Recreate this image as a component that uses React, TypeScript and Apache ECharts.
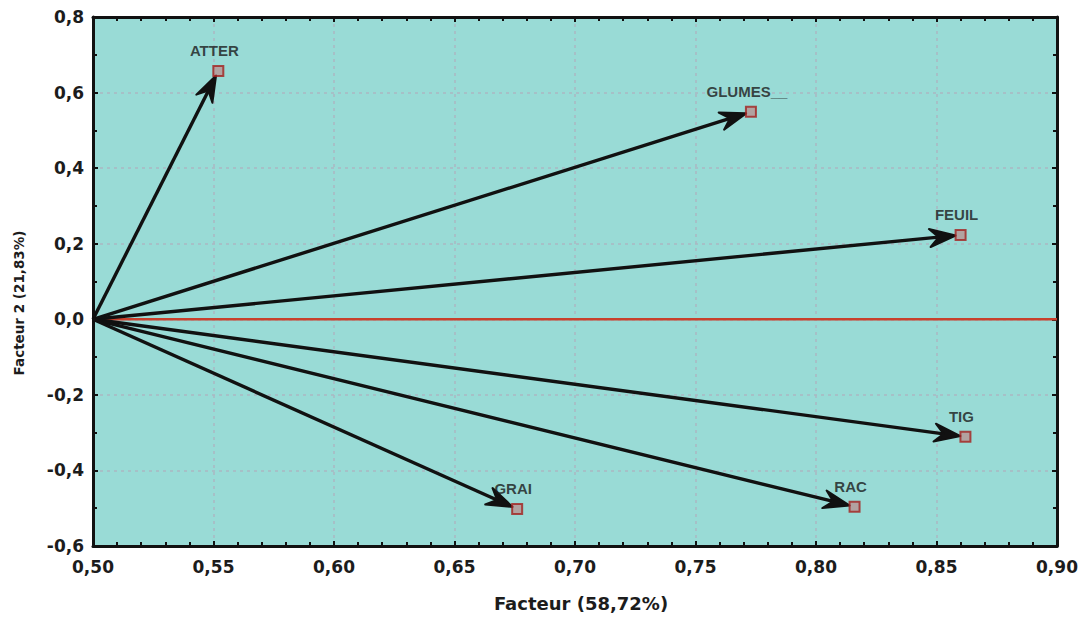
import React, { useEffect, useRef } from 'react';
import * as echarts from 'echarts';

// ---- data ----
const variables = ['ATTER', 'GLUMES__', 'FEUIL', 'TIG', 'RAC', 'GRAI'];
const factor1 = [0.552, 0.773, 0.86, 0.862, 0.816, 0.676];
const factor2 = [0.657, 0.549, 0.223, -0.311, -0.496, -0.502];
const origin = [0.5, 0];
const zeroLine = [[0.5, 0], [0.9, 0]];

const xMin = 0.5, xMax = 0.9, xStep = 0.05;
const yMin = -0.6, yMax = 0.8, yStep = 0.2;
const xTickLabels = ['0,50', '0,55', '0,60', '0,65', '0,70', '0,75', '0,80', '0,85', '0,90'];
const yTickLabels = ['-0,6', '-0,4', '-0,2', '0,0', '0,2', '0,4', '0,6', '0,8'];
const xTitle = 'Facteur (58,72%)';
const yTitle = 'Facteur 2 (21,83%)';

const BG = '#99dbd6';
const TXT = '#1c1c1c';
const FONT = "'DejaVu Sans', sans-serif";

export default function App() {
  const ref = useRef<HTMLDivElement>(null);

  useEffect(() => {
    if (!ref.current) return;
    const chart = echarts.init(ref.current, undefined, { renderer: 'svg' });

    const pts = variables.map((n, i) => ({ name: n, value: [factor1[i], factor2[i]] }));

    const tickStyle = { show: true, inside: true, length: 5, lineStyle: { color: '#111', width: 2 } };
    const axisLineStyle = { show: true, onZero: false, lineStyle: { color: '#111', width: 3 } };

    chart.setOption({
      animation: false,
      backgroundColor: '#ffffff',
      grid: {
        left: 93, right: 29, top: 17, bottom: 71,
        show: true, backgroundColor: BG, borderColor: '#111', borderWidth: 0,
      },
      xAxis: [
        {
          type: 'value', min: xMin, max: xMax, interval: xStep,
          axisLine: axisLineStyle,
          axisTick: tickStyle,
          minorTick: { show: true, splitNumber: 5, length: 4, lineStyle: { color: '#111', width: 2 } },
          axisLabel: {
            color: TXT, fontSize: 17, fontWeight: 'bold', fontFamily: FONT, margin: 12,
            formatter: (v: number) => xTickLabels[Math.round((v - xMin) / xStep)] ?? '',
          },
          splitLine: { show: true, lineStyle: { color: '#aab8c2', width: 1.5, type: [3, 4] } },
        },
        {
          type: 'value', position: 'top', min: xMin, max: xMax, interval: xStep,
          axisLine: axisLineStyle,
          axisTick: tickStyle,
          minorTick: { show: true, splitNumber: 5, length: 4, lineStyle: { color: '#111', width: 2 } },
          axisLabel: { show: false },
          splitLine: { show: false },
        },
      ],
      yAxis: [
        {
          type: 'value', min: yMin, max: yMax, interval: yStep,
          axisLine: axisLineStyle,
          axisTick: tickStyle,
          minorTick: { show: true, splitNumber: 2, length: 4, lineStyle: { color: '#111', width: 2 } },
          axisLabel: {
            color: TXT, fontSize: 17, fontWeight: 'bold', fontFamily: FONT, margin: 9,
            formatter: (v: number) => yTickLabels[Math.round((v - yMin) / yStep)] ?? '',
          },
          splitLine: { show: true, lineStyle: { color: '#aab8c2', width: 1.5, type: [3, 4] } },
        },
        {
          type: 'value', position: 'right', min: yMin, max: yMax, interval: yStep,
          axisLine: axisLineStyle,
          axisTick: tickStyle,
          minorTick: { show: true, splitNumber: 2, length: 4, lineStyle: { color: '#111', width: 2 } },
          axisLabel: { show: false },
          splitLine: { show: false },
        },
      ],
      series: [
        {
          type: 'line',
          data: zeroLine,
          symbol: 'none',
          lineStyle: { color: '#c8402c', width: 2.5 },
          z: 2,
          silent: true,
        },
        {
          type: 'custom',
          data: pts.map((p) => p.value),
          z: 3,
          renderItem: (params: any, api: any) => {
            const s = api.coord(origin);
            const e = api.coord([api.value(0), api.value(1)]);
            const dx = e[0] - s[0];
            const dy = e[1] - s[1];
            const L = Math.hypot(dx, dy) || 1;
            const ux = dx / L, uy = dy / L;
            const nx = -uy, ny = ux;
            const tip = [e[0] - ux * 5, e[1] - uy * 5];
            const back = [tip[0] - ux * 26, tip[1] - uy * 26];
            const notch = [tip[0] - ux * 17, tip[1] - uy * 17];
            return {
              type: 'group',
              children: [
                {
                  type: 'line',
                  shape: { x1: s[0], y1: s[1], x2: notch[0], y2: notch[1] },
                  style: { stroke: '#111', lineWidth: 3.4 },
                },
                {
                  type: 'polygon',
                  shape: {
                    points: [
                      tip,
                      [back[0] + nx * 9, back[1] + ny * 9],
                      notch,
                      [back[0] - nx * 9, back[1] - ny * 9],
                    ],
                  },
                  style: { fill: '#111', stroke: '#111', lineWidth: 2, lineJoin: 'round' },
                },
              ],
            };
          },
        },
        {
          type: 'scatter',
          data: pts,
          symbol: 'rect',
          symbolSize: 10,
          z: 4,
          itemStyle: { color: 'rgba(205,100,100,0.6)', borderColor: '#a3201e', borderWidth: 2 },
          label: {
            show: true,
            position: 'top',
            distance: 7,
            offset: [-4, 0],
            formatter: '{b}',
            color: '#1a1a1a',
            fontSize: 15,
            fontWeight: 'bold',
            fontFamily: "'Liberation Sans', Arial, sans-serif",
          },
        },
      ],
      graphic: [
        {
          type: 'text',
          x: 581,
          y: 603,
          style: {
            text: xTitle, fill: TXT, fontSize: 18, fontWeight: 'bold', fontFamily: FONT,
            align: 'center', verticalAlign: 'middle',
          },
        },
        {
          type: 'text',
          x: 19,
          y: 303,
          rotation: Math.PI / 2,
          style: {
            text: yTitle, fill: TXT, fontSize: 13.5, fontWeight: 'bold', fontFamily: FONT,
            align: 'center', verticalAlign: 'middle',
          },
        },
      ],
    });

    return () => chart.dispose();
  }, []);

  return (
    <div
      ref={ref}
      style={{ position: 'absolute', left: 0, top: 0, width: 1086, height: 617, background: '#fff' }}
    />
  );
}
